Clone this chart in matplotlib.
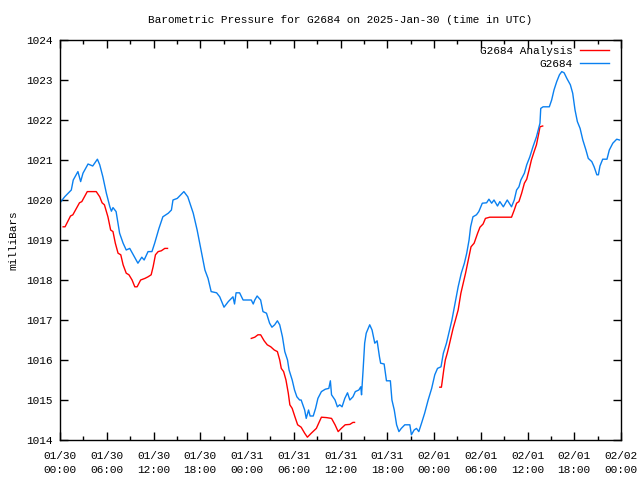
import matplotlib
matplotlib.use("Agg")
import matplotlib.pyplot as plt
from matplotlib.ticker import MultipleLocator

# hours since 2025-01-30 00:00 UTC, pressure in mb
obs_hours = [0.0, 0.6, 1.45, 1.7, 2.3, 2.65, 2.95, 3.6, 4.2, 4.8, 5.1, 5.5, 5.95, 6.4,
             6.6, 6.8, 7.2, 7.65, 8.1, 8.5, 8.95, 9.4, 10.0, 10.5, 10.8, 11.3, 11.8,
             12.15, 12.7, 13.2, 13.9, 14.3, 14.5, 15.05, 15.6, 15.9, 16.4, 17.1, 17.6,
             18.1, 18.6, 19.0, 19.4, 20.1, 20.5, 21.05, 21.6, 22.2, 22.4, 22.6, 23.05,
             23.5, 24.55, 24.8, 25.0, 25.3, 25.75, 26.05, 26.5, 26.9, 27.2, 27.55, 27.9,
             28.2, 28.55, 28.85, 29.2, 29.4, 29.8, 30.1, 30.4, 30.75, 30.95, 31.4, 31.6,
             31.9, 32.1, 32.5, 32.8, 33.1, 33.55, 34.05, 34.5, 34.7, 34.85, 35.3, 35.6,
             35.9, 36.2, 36.55, 36.9, 37.2, 37.6, 37.9, 38.35, 38.6, 38.7, 38.9, 39.1,
             39.3, 39.75, 40.05, 40.4, 40.7, 41.0, 41.15, 41.6, 41.9, 42.4, 42.6, 42.9,
             43.2, 43.5, 43.8, 44.25, 44.9, 45.1, 45.45, 45.75, 46.05, 46.4, 46.8, 47.25,
             47.7, 48.1, 48.45, 48.9, 49.2, 49.6, 49.9, 50.3, 51.1, 51.5, 51.9, 52.2,
             52.5, 52.7, 53.0, 53.45, 53.75, 54.2, 54.75, 55.05, 55.4, 55.7, 56.15, 56.45,
             56.9, 57.4, 57.95, 58.3, 58.6, 58.9, 59.15, 59.6, 59.9, 60.3, 60.7, 61.15,
             61.6, 61.7, 62.0, 62.8, 63.1, 63.4, 63.75, 64.1, 64.4, 64.7, 65.05, 65.5,
             65.8, 66.1, 66.4, 66.75, 67.1, 67.5, 67.8, 68.25, 68.55, 68.9, 69.1, 69.3,
             69.65, 70.2, 70.5, 70.95, 71.45, 71.8]
obs_mb = [1019.93, 1020.08, 1020.25, 1020.5, 1020.71, 1020.46, 1020.67, 1020.9, 1020.85,
          1021.02, 1020.88, 1020.58, 1020.17, 1019.83, 1019.72, 1019.81, 1019.71, 1019.17,
          1018.92, 1018.75, 1018.79, 1018.63, 1018.42, 1018.57, 1018.5, 1018.71, 1018.71,
          1018.92, 1019.29, 1019.58, 1019.67, 1019.75, 1020.0, 1020.04, 1020.15, 1020.21,
          1020.08, 1019.67, 1019.25, 1018.75, 1018.25, 1018.04, 1017.71, 1017.68, 1017.58,
          1017.32, 1017.46, 1017.58, 1017.4, 1017.68, 1017.68, 1017.5, 1017.5, 1017.4,
          1017.5, 1017.6, 1017.5, 1017.21, 1017.17, 1016.92, 1016.82, 1016.88, 1016.98,
          1016.88, 1016.58, 1016.21, 1016.0, 1015.75, 1015.5, 1015.25, 1015.08, 1015.0,
          1015.0, 1014.75, 1014.54, 1014.75, 1014.6, 1014.6, 1014.79, 1015.04, 1015.21,
          1015.27, 1015.29, 1015.48, 1015.13, 1015.0, 1014.83, 1014.88, 1014.83, 1015.04,
          1015.18, 1015.0, 1015.08, 1015.21, 1015.25, 1015.33, 1015.13, 1015.75, 1016.42,
          1016.67, 1016.88, 1016.75, 1016.42, 1016.48, 1016.08, 1015.92, 1015.9, 1015.48,
          1015.48, 1015.0, 1014.75, 1014.38, 1014.21, 1014.29, 1014.38, 1014.38, 1014.13,
          1014.25, 1014.29, 1014.21, 1014.42, 1014.67, 1015.0, 1015.29, 1015.63, 1015.79,
          1015.83, 1016.17, 1016.42, 1016.67, 1017.0, 1017.83, 1018.17, 1018.42, 1018.67,
          1019.0, 1019.33, 1019.58, 1019.63, 1019.71, 1019.92, 1019.93, 1020.02, 1019.92,
          1020.0, 1019.85, 1019.96, 1019.83, 1020.0, 1019.83, 1020.0, 1020.25, 1020.33,
          1020.5, 1020.67, 1020.88, 1021.08, 1021.33, 1021.58, 1021.92, 1022.29, 1022.33,
          1022.33, 1022.5, 1022.75, 1022.96, 1023.13, 1023.21, 1023.18, 1023.04, 1022.88,
          1022.67, 1022.25, 1021.96, 1021.79, 1021.5, 1021.25, 1021.04, 1020.96, 1020.83,
          1020.63, 1020.63, 1020.85, 1021.02, 1021.02, 1021.25, 1021.42, 1021.52, 1021.5]

# analysis comes in three separate runs
ana1_hours = [0.4, 0.65, 1.35, 1.65, 2.5, 2.8, 3.5, 4.65, 5.1, 5.4, 5.7, 6.15, 6.5, 6.8,
              7.1, 7.45, 7.8, 8.1, 8.5, 8.85, 9.25, 9.6, 9.9, 10.35, 10.9, 11.3, 11.7,
              11.95, 12.25, 12.6, 13.0, 13.45, 13.8]
ana1_mb = [1019.33, 1019.33, 1019.6, 1019.63, 1019.93, 1019.96, 1020.21, 1020.21, 1020.08,
           1019.93, 1019.88, 1019.58, 1019.25, 1019.21, 1018.92, 1018.67, 1018.63, 1018.38,
           1018.17, 1018.13, 1018.0, 1017.83, 1017.83, 1018.0, 1018.04, 1018.08, 1018.13,
           1018.33, 1018.63, 1018.71, 1018.73, 1018.79, 1018.79]
ana2_hours = [24.55, 25.0, 25.4, 25.75, 26.2, 26.6, 27.05, 27.5, 27.9, 28.2, 28.4, 28.7,
              29.0, 29.3, 29.5, 29.8, 30.15, 30.5, 30.95, 31.4, 31.75, 32.25, 32.9, 33.2,
              33.55, 34.2, 34.85, 35.3, 35.7, 36.1, 36.6, 37.2, 37.6, 37.8]
ana2_mb = [1016.54, 1016.57, 1016.63, 1016.63, 1016.48, 1016.38, 1016.33, 1016.25, 1016.21,
           1016.0, 1015.79, 1015.71, 1015.5, 1015.17, 1014.88, 1014.79, 1014.58, 1014.38,
           1014.32, 1014.17, 1014.07, 1014.17, 1014.29, 1014.42, 1014.57, 1014.56, 1014.54,
           1014.38, 1014.21, 1014.29, 1014.38, 1014.39, 1014.44, 1014.44]
ana3_hours = [48.75, 48.95, 49.05, 49.25, 49.45, 49.7, 49.9, 50.15, 50.45, 50.75, 51.1,
              51.45, 51.75, 52.05, 52.4, 52.75, 53.15, 53.6, 53.9, 54.3, 54.6, 55.15,
              57.95, 58.3, 58.6, 58.9, 59.25, 59.6, 59.9, 60.2, 60.5, 60.85, 61.15, 61.45,
              61.6, 61.95]
ana3_mb = [1015.32, 1015.32, 1015.46, 1015.75, 1016.0, 1016.17, 1016.33, 1016.54, 1016.79,
           1017.0, 1017.25, 1017.67, 1017.92, 1018.17, 1018.5, 1018.83, 1018.92, 1019.17,
           1019.32, 1019.4, 1019.54, 1019.57, 1019.57, 1019.75, 1019.92, 1019.96, 1020.17,
           1020.42, 1020.52, 1020.75, 1021.0, 1021.21, 1021.38, 1021.67, 1021.83, 1021.85]

tick_hours = list(range(0, 73, 6))
tick_labels = ["01/30\n00:00", "01/30\n06:00", "01/30\n12:00", "01/30\n18:00",
               "01/31\n00:00", "01/31\n06:00", "01/31\n12:00", "01/31\n18:00",
               "02/01\n00:00", "02/01\n06:00", "02/01\n12:00", "02/01\n18:00",
               "02/02\n00:00"]

plt.rcParams['font.family'] = ['Liberation Mono', 'DejaVu Sans Mono']
plt.rcParams['font.size'] = 8

fig = plt.figure(figsize=(6.4, 4.8), dpi=100)
ax = fig.add_axes([60 / 640, 40 / 480, 561 / 640, 400 / 480])

red = '#ff0000'
blue = '#0a80f0'
ax.plot(ana1_hours, ana1_mb, color=red, lw=1.0, label='G2684 Analysis')
ax.plot(ana2_hours, ana2_mb, color=red, lw=1.0)
ax.plot(ana3_hours, ana3_mb, color=red, lw=1.0)
ax.plot(obs_hours, obs_mb, color=blue, lw=1.0, label='G2684')

ax.set_xlim(0, 72)
ax.set_ylim(1014, 1024)
ax.set_xticks(tick_hours)
ax.set_xticklabels(tick_labels, linespacing=1.45)
ax.xaxis.set_minor_locator(MultipleLocator(3))
ax.yaxis.set_major_locator(MultipleLocator(1))
ax.tick_params(which='both', direction='in', top=True, right=True, width=1)
ax.tick_params(which='major', length=6)
ax.tick_params(which='minor', length=3)
ax.tick_params(axis='x', pad=8)
ax.tick_params(axis='y', pad=5)
for s in ax.spines.values():
    s.set_linewidth(1)

ax.set_title("Barometric Pressure for G2684 on 2025-Jan-30 (time in UTC)", fontsize=8, pad=12)
ax.set_ylabel("milliBars", labelpad=6)

leg = ax.legend(loc='upper right', frameon=False, markerfirst=False, handlelength=2.6,
                handletextpad=0.7, labelspacing=0.25, borderaxespad=0.15, fontsize=8,
                bbox_to_anchor=(0.99, 1.0))
for t in leg.get_texts():
    t.set_ha('right')

fig.savefig('out.png', dpi=100)
